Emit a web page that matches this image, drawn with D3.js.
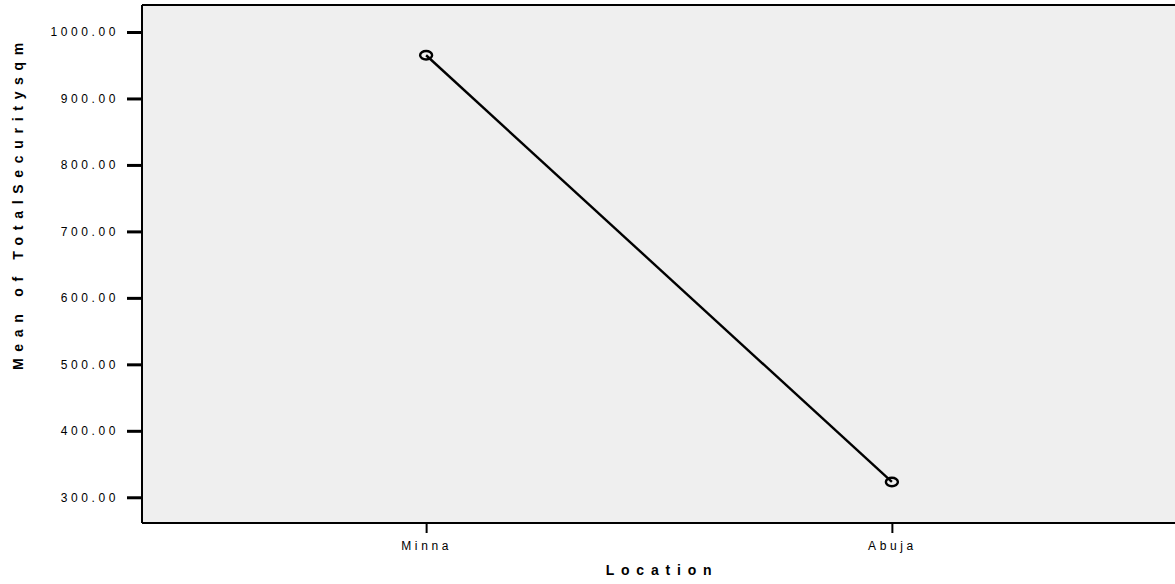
<!DOCTYPE html>
<html><head><meta charset="utf-8">
<script src="https://cdn.jsdelivr.net/npm/d3@7"></script>
<style>body{margin:0;background:#fff}svg{display:block}</style>
</head><body>
<svg id="c" width="1175" height="584"></svg>
<script>
const categories = ["Minna", "Abuja"];
const meanValues = [965, 323];
const yTicks = [300, 400, 500, 600, 700, 800, 900, 1000];
const xTitle = "Location";
const yTitle = "Mean of TotalSecuritysqm";

const svg = d3.select("#c");
const L = 142, R = 1176, T = 5, B = 523;
const x = d3.scalePoint().domain(categories).range([L, R]).padding(0.61);
const y = d3.scaleLinear().domain([261.3, 1040.6]).range([B, T]);
const font = "Arial, 'Liberation Sans', sans-serif";

svg.append("rect").attr("x", L).attr("y", T).attr("width", R - L).attr("height", B - T).attr("fill", "#efefef");
svg.append("line").attr("x1", L).attr("x2", R).attr("y1", T).attr("y2", T).attr("stroke", "#000").attr("stroke-width", 2);

const yAxis = svg.append("g").attr("transform", `translate(${L},0)`)
  .call(d3.axisLeft(y).tickValues(yTicks).tickSize(15).tickPadding(8).tickFormat(d3.format(".2f")));
yAxis.select(".domain").attr("stroke-width", 2).attr("d", `M0,${T}V${B}`);
yAxis.selectAll(".tick line").attr("stroke-width", 3);
yAxis.selectAll(".tick text").attr("font-family", font).attr("font-size", 12).attr("letter-spacing", "3.6px").attr("fill", "#000");

const xAxis = svg.append("g").attr("transform", `translate(0,${B})`)
  .call(d3.axisBottom(x).tickSize(10).tickPadding(8));
xAxis.select(".domain").attr("stroke-width", 2).attr("d", `M${L},0H${R}`);
xAxis.selectAll(".tick line").attr("stroke-width", 2);
xAxis.selectAll(".tick text").attr("font-family", font).attr("font-size", 12).attr("letter-spacing", "3.6px").attr("fill", "#000");

const pts = categories.map((c, i) => [x(c), y(meanValues[i])]);
svg.append("path").attr("d", d3.line()(pts)).attr("fill", "none").attr("stroke", "#000").attr("stroke-width", 2.4);
svg.selectAll("ellipse.m").data(pts).enter().append("ellipse")
  .attr("cx", d => d[0]).attr("cy", d => d[1]).attr("rx", 6).attr("ry", 4.3)
  .attr("fill", "none").attr("stroke", "#000").attr("stroke-width", 2.4);

svg.append("text").attr("x", (L + R) / 2 + 3).attr("y", 575).attr("text-anchor", "middle")
  .attr("font-family", font).attr("font-weight", "bold").attr("font-size", 14)
  .attr("letter-spacing", "6.8px").text(xTitle);
svg.append("text").attr("transform", "translate(23,203) rotate(-90)").attr("text-anchor", "middle")
  .attr("font-family", font).attr("font-weight", "bold").attr("font-size", 14)
  .attr("letter-spacing", "6.7px").text(yTitle);
</script>
</body></html>
